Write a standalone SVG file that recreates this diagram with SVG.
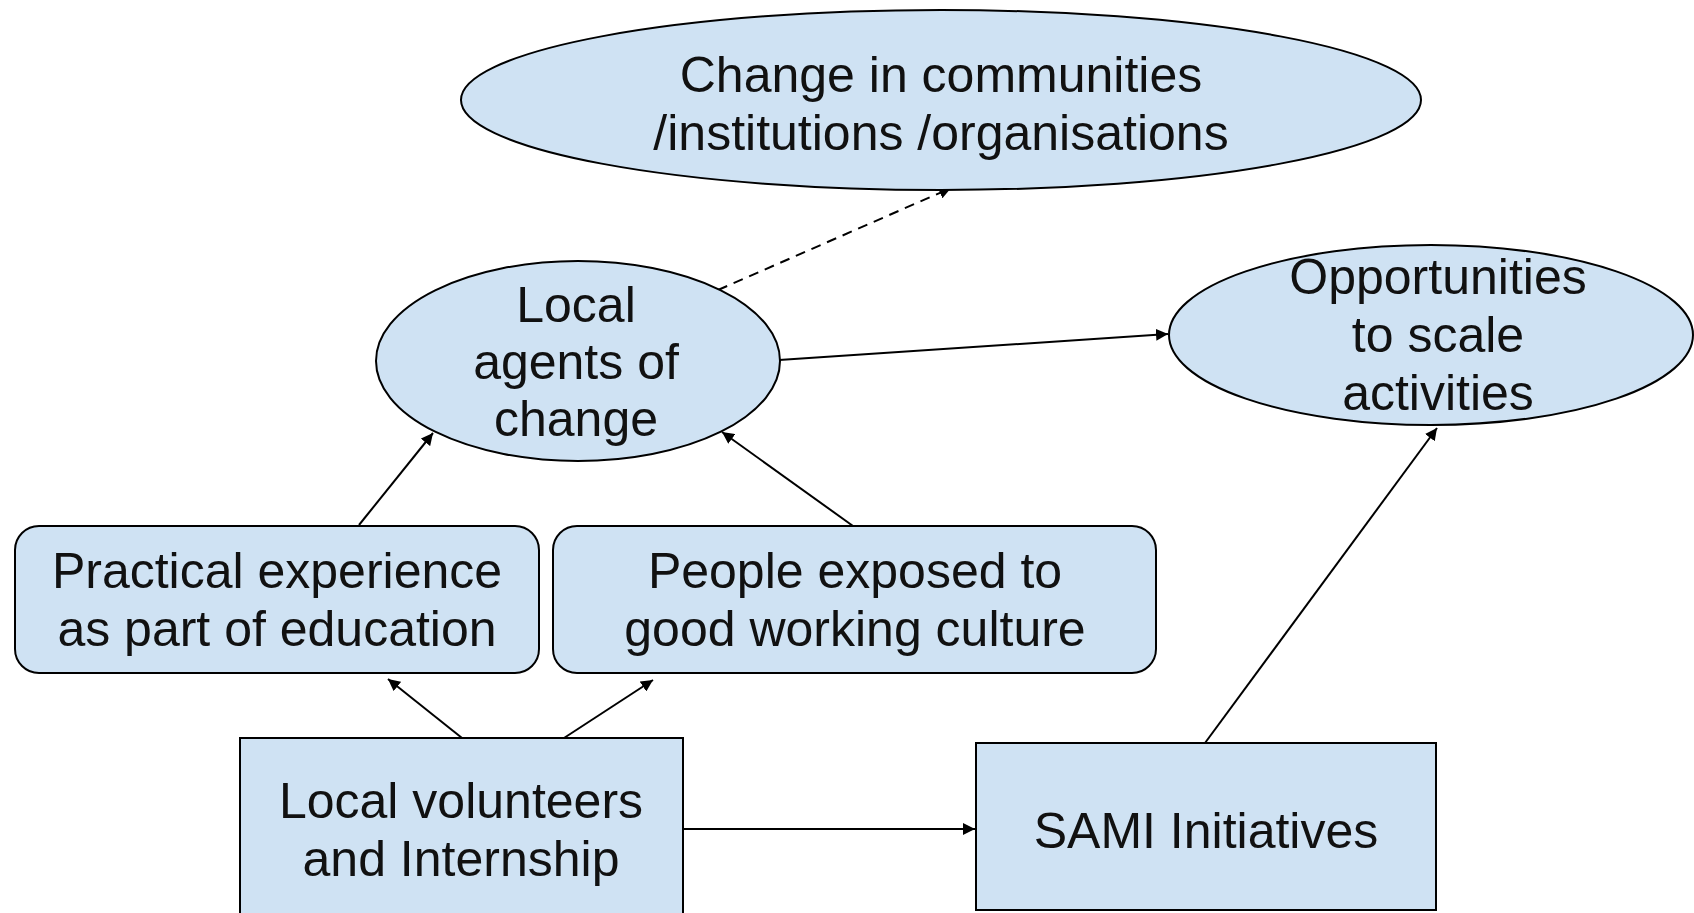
<svg xmlns="http://www.w3.org/2000/svg" width="1694" height="913" viewBox="0 0 1694 913">
<style>
.n{fill:#cfe2f3;stroke:#000;stroke-width:2}
.t{font-family:"Liberation Sans",Arial,sans-serif;font-size:50px;fill:#111;text-anchor:middle}
.c{fill:none;stroke:#000;stroke-width:2}
.d{stroke-dasharray:10 7}
</style>
<defs>
<marker id="ah" viewBox="0 0 10 10" refX="10" refY="5" markerWidth="6" markerHeight="6" markerUnits="strokeWidth" orient="auto">
<path d="M0,0 L10,5 L0,10 z" fill="#000"/>
</marker>
</defs>
<rect width="1694" height="913" fill="#fff"/>
<g id="connectors">
<path class="c d" d="M718,290 L951,188" marker-end="url(#ah)"/>
<path class="c" d="M779,360 L1168,334" marker-end="url(#ah)"/>
<path class="c" d="M359,525 L433,433" marker-end="url(#ah)"/>
<path class="c" d="M853,526 L722,432" marker-end="url(#ah)"/>
<path class="c" d="M462,738 L388,679" marker-end="url(#ah)"/>
<path class="c" d="M564,738 L653,680" marker-end="url(#ah)"/>
<path class="c" d="M683,829 L975,829" marker-end="url(#ah)"/>
<path class="c" d="M1205,743 L1437,428" marker-end="url(#ah)"/>
</g>
<g id="change">
<ellipse class="n" cx="941" cy="100" rx="480" ry="90"/>
<text class="t" x="941" y="92">Change in communities</text>
<text class="t" x="941" y="150">/institutions /organisations</text>
</g>
<g id="agents">
<ellipse class="n" cx="578" cy="361" rx="202" ry="100"/>
<text class="t" x="576" y="322">Local</text>
<text class="t" x="576" y="379">agents of</text>
<text class="t" x="576" y="436">change</text>
</g>
<g id="opportunities">
<ellipse class="n" cx="1431" cy="335" rx="262" ry="90"/>
<text class="t" x="1438" y="294">Opportunities</text>
<text class="t" x="1438" y="352">to scale</text>
<text class="t" x="1438" y="410">activities</text>
</g>
<g id="practical">
<rect class="n" x="15" y="526" width="524" height="147" rx="24"/>
<text class="t" x="277" y="588">Practical experience</text>
<text class="t" x="277" y="646">as part of education</text>
</g>
<g id="people">
<rect class="n" x="553" y="526" width="603" height="147" rx="24"/>
<text class="t" x="855" y="588">People exposed to</text>
<text class="t" x="855" y="646">good working culture</text>
</g>
<g id="volunteers">
<rect class="n" x="240" y="738" width="443" height="190"/>
<text class="t" x="461" y="818">Local volunteers</text>
<text class="t" x="461" y="876">and Internship</text>
</g>
<g id="sami">
<rect class="n" x="976" y="743" width="460" height="167"/>
<text class="t" x="1206" y="848">SAMI Initiatives</text>
</g>
</svg>
